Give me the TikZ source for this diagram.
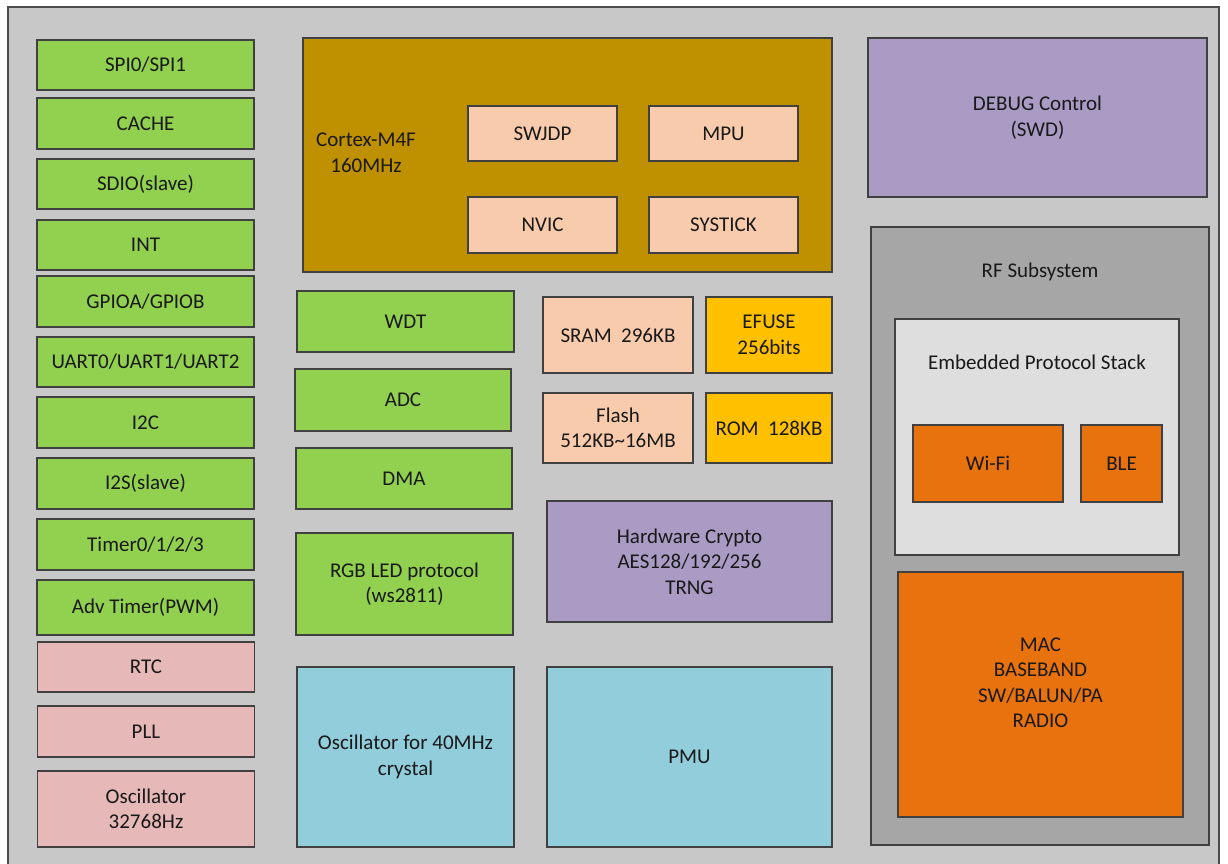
\documentclass[tikz,border=0pt]{standalone}
\usepackage{fontspec}
\setmainfont{Carlito}
\usepackage{tikz}
\usetikzlibrary{positioning}
\definecolor{chipbg}{HTML}{C8C8C8}
\definecolor{iogreen}{HTML}{92D050}
\definecolor{coregold}{HTML}{BF9000}
\definecolor{peach}{HTML}{F8CBAD}
\definecolor{amber}{HTML}{FFC000}
\definecolor{lilac}{HTML}{A99BC4}
\definecolor{skyblue}{HTML}{92CDDC}
\definecolor{rosy}{HTML}{E6B8B7}
\definecolor{rfgray}{HTML}{A6A6A6}
\definecolor{stackgray}{HTML}{DEDEDE}
\definecolor{radio}{HTML}{E8720E}
\tikzset{blk/.style={draw=black!75, line width=1.4pt, fill=#1, rectangle, align=center,
    text=black!90, font=\chipfont},
    blk/.default={iogreen},
    sz/.style 2 args={minimum width=#1pt, minimum height=#2pt, inner sep=0pt},
    lbl/.style={align=center, text=black!90, font=\chipfont}}
\newcommand{\chipfont}{\fontsize{21}{25.5}\selectfont}

\begin{document}
\begin{tikzpicture}[x=1pt, y=-1pt]
        \useasboundingbox (0,0) rectangle (1228,863);
        \fill[white] (0,0) rectangle (1228,863);
        \draw[fill=chipbg, draw=black!70, line width=1.4pt] (8,7) rectangle (1219,880);

        \node[blk, sz={217}{50}] (spi)   at (145.5,65)    {SPI0/SPI1};
        \node[blk, sz={217}{51}] (cache) at (145.5,123.5) {CACHE};
        \node[blk, sz={217}{50}] (sdio)  at (145.5,184)   {SDIO(slave)};
        \node[blk, sz={217}{50}] (int)   at (145.5,245)   {INT};
        \node[blk, sz={217}{51}] (gpio)  at (145.5,301.5) {GPIOA/GPIOB};
        \node[blk, sz={217}{50}] (uart)  at (145.5,362)   {UART0/UART1/UART2};
        \node[blk, sz={217}{51}] (iic)   at (145.5,422.5) {I2C};
        \node[blk, sz={217}{51}] (iis)   at (145.5,483.5) {I2S(slave)};
        \node[blk, sz={217}{51}] (timer) at (145.5,544.5) {Timer0/1/2/3};
        \node[blk, sz={217}{55}] (pwm)   at (145.5,607.5) {Adv Timer(PWM)};
        \node[blk=rosy, sz={217}{50}] (rtc) at (146,667)   {RTC};
        \node[blk=rosy, sz={217}{51}] (pll) at (146,731.5) {PLL};
        \node[blk=rosy, sz={217}{76}] (osc32) at (146,809) {Oscillator\\32768Hz};

        \node[blk=coregold, sz={529}{234}] (core) at (567.5,155) {};
        \node[lbl] (corename) at (366,153) {Cortex-M4F\\160MHz};
        \node[blk=peach, sz={149}{55}] (swjdp)   at (542.5,133.5) {SWJDP};
        \node[blk=peach, sz={149}{55}] (mpu)     at (723.5,133.5) {MPU};
        \node[blk=peach, sz={149}{56}] (nvic)    at (542.5,225)   {NVIC};
        \node[blk=peach, sz={149}{56}] (systick) at (723.5,225)   {SYSTICK};

        \node[blk, sz={217}{61}] (wdt) at (405.5,321.5) {WDT};
        \node[blk, sz={216}{62}] (adc) at (403,400)     {ADC};
        \node[blk, sz={216}{61}] (dma) at (404,478.5)   {DMA};
        \node[blk, sz={217}{102}] (rgb) at (404.5,584)  {RGB LED protocol\\(ws2811)};
        \node[blk=skyblue, sz={217}{180}] (osc40) at (405.5,757) {Oscillator for 40MHz\\crystal};

        \node[blk=peach, sz={150}{76}] (sram)  at (618,335) {SRAM~~296KB};
        \node[blk=amber, sz={126}{76}] (efuse) at (769,335) {EFUSE\\256bits};
        \node[blk=peach, sz={150}{70}] (flash) at (618,428) {Flash\\512KB\textasciitilde 16MB};
        \node[blk=amber, sz={126}{70}] (rom)   at (769,428) {ROM~~128KB};
        \node[blk=lilac, sz={285}{121}] (crypto) at (689.5,561.5) {Hardware Crypto\\AES128/192/256\\TRNG};
        \node[blk=skyblue, sz={285}{180}] (pmu) at (689.5,757) {PMU};

        \node[blk=lilac, sz={339}{159}] (debug) at (1037.5,117.5) {DEBUG Control\\(SWD)};
        \node[blk=rfgray, sz={338}{618}] (rf) at (1040,536) {};
        \node[lbl, below=33pt of rf.north] (rfname) {RF Subsystem};
        \node[blk=stackgray, sz={284}{236}] (stack) at (1037,437) {};
        \node[lbl, below=33pt of stack.north] (stackname) {Embedded Protocol Stack};
        \node[blk=radio, sz={150}{77}] (wifi) at (988,463.5)    {Wi-Fi};
        \node[blk=radio, sz={81}{77}]  (ble)  at (1121.5,463.5) {BLE};
        \node[blk=radio, sz={285}{245}] (mac) at (1040.5,694.5) {};
        \node[lbl] (macname) at ([yshift=12pt]mac.center) {MAC\\BASEBAND\\SW/BALUN/PA\\RADIO};
    \end{tikzpicture}
\end{document}
